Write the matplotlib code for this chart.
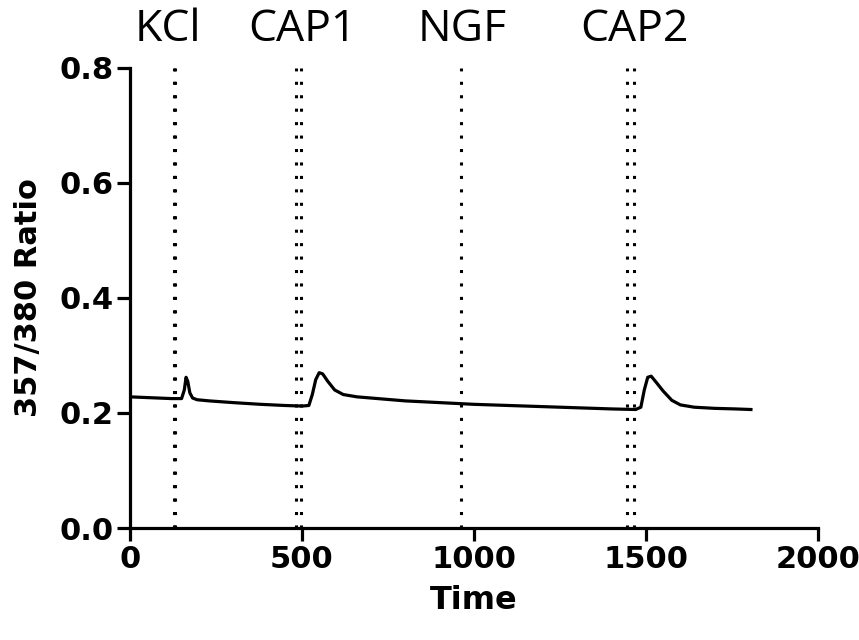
import matplotlib.pyplot as plt
import matplotlib.transforms as mtransforms

# trace (time, 357/380 ratio)
time = [0, 40, 80, 120, 150, 158, 163, 168, 174, 182, 195, 230, 300, 380, 450, 500, 520,
        530, 540, 550, 560, 575, 595, 620, 660, 720, 800, 900, 1000, 1100, 1200, 1300,
        1400, 1470, 1485, 1495, 1505, 1515, 1530, 1550, 1575, 1600, 1640, 1700, 1760, 1805]
ratio = [0.228, 0.227, 0.226, 0.225, 0.225, 0.240, 0.262, 0.255, 0.235, 0.226, 0.223, 0.221,
         0.218, 0.215, 0.213, 0.212, 0.213, 0.232, 0.258, 0.270, 0.268, 0.255, 0.240, 0.232,
         0.228, 0.225, 0.221, 0.218, 0.215, 0.213, 0.211, 0.209, 0.207, 0.206, 0.210, 0.240,
         0.262, 0.264, 0.253, 0.238, 0.222, 0.214, 0.210, 0.208, 0.207, 0.206]

# treatment markers
event_names = ["KCl", "CAP1", "NGF", "CAP2"]
event_label_x = [110, 500, 965, 1465]
event_lines = [[127, 132], [483, 498], [963], [1445, 1465]]

fig = plt.figure(figsize=(8.59, 6.4), dpi=100)
ax = fig.add_axes([0.1513, 0.175, 0.801, 0.719])

for xs in event_lines:
    for xv in xs:
        ax.plot([xv, xv], [0, 0.8], color="black", lw=2.2, linestyle=(0, (1, 3.4)),
                solid_capstyle="butt", dash_capstyle="butt")

ax.plot(time, ratio, color="black", lw=2.3)

trans = mtransforms.blended_transform_factory(ax.transData, ax.transAxes)
for name, xv in zip(event_names, event_label_x):
    ax.text(xv, 1.035, name, transform=trans, ha="center", va="bottom",
            fontsize=32, family=["Open Sans", "DejaVu Sans"])

ax.set_xlim(0, 2000)
ax.set_ylim(0, 0.8)
ax.set_xticks([0, 500, 1000, 1500, 2000])
ax.set_yticks([0.0, 0.2, 0.4, 0.6, 0.8])
ax.set_yticklabels(["0.0", "0.2", "0.4", "0.6", "0.8"])

ax.spines["top"].set_visible(False)
ax.spines["right"].set_visible(False)
for s in ["left", "bottom"]:
    ax.spines[s].set_linewidth(2.3)
ax.tick_params(width=2.3, length=9.5, labelsize=22)
ax.tick_params(axis="y", pad=2)
ax.tick_params(axis="x", pad=3)
for lab in ax.get_xticklabels() + ax.get_yticklabels():
    lab.set_fontweight("bold")

ax.set_xlabel("Time", fontsize=23, fontweight="bold", labelpad=8)
ax.set_ylabel("357/380 Ratio", fontsize=22, fontweight="bold", labelpad=12)

fig.savefig("out.png", dpi=100)
